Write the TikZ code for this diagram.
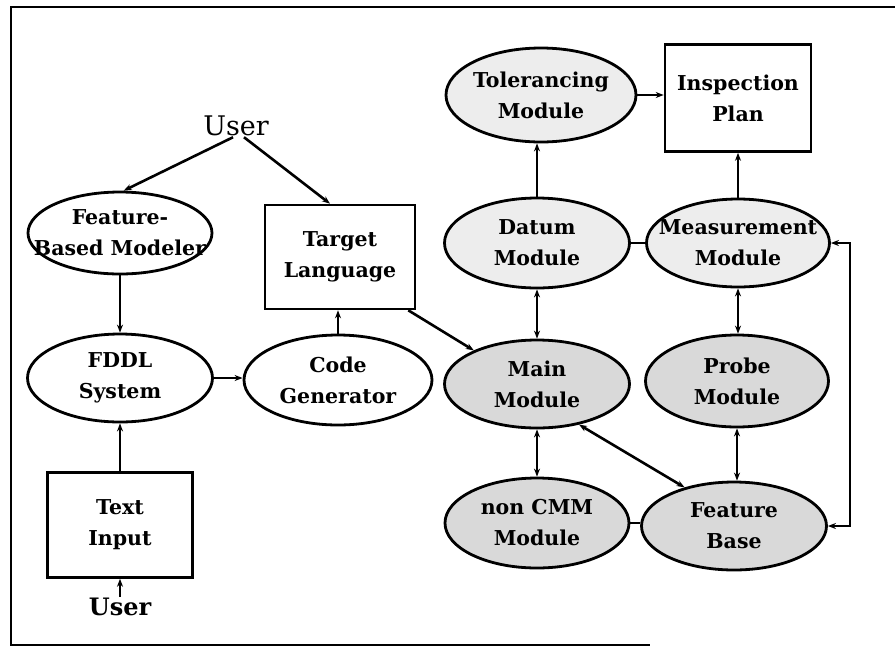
\documentclass[tikz,border=0pt]{standalone}
\usepackage{fontspec}
\setmainfont{DejaVu Serif}
\usetikzlibrary{shapes.geometric,arrows.meta,calc}
\begin{document}
\begin{tikzpicture}[x=1pt,y=-1pt,
  lbl/.style={font=\fontsize{20.5}{31}\selectfont\bfseries, align=center, inner sep=0pt},
  ell/.style={ellipse, draw, line width=2.8pt, lbl, inner xsep=-60pt, inner ysep=-25pt},
  lightell/.style={ell, fill=gray!14},
  darkell/.style={ell, fill=gray!30},
  boxnode/.style={rectangle, draw, line width=2.6pt, lbl},
  conn/.style={line width=2.6pt},
  arr/.style={conn, -{Stealth[length=8pt,width=6pt]}},
  darr/.style={conn, {Stealth[length=8pt,width=6pt]}-{Stealth[length=8pt,width=6pt]}}
]
\useasboundingbox (0,0) rectangle (895,649);
\draw[line width=2.2pt] (895,7) -- (11,7) -- (11,645) -- (650,645);

% left part
\node[inner sep=1pt, font=\fontsize{27}{30}\selectfont] (userT) at (236,126) {User};
\node[ell, minimum width=184, minimum height=82] (fbm) at (120,233) {Feature-\\Based Modeler};
\node[boxnode, minimum width=150, minimum height=104] (tl) at (340,257) {Target\\Language};
\node[ell, minimum width=185, minimum height=88] (fddl) at (120,378) {FDDL\\System};
\node[ell, minimum width=188, minimum height=90] (cg) at (338,380) {Code\\Generator};
\node[boxnode, minimum width=145, minimum height=105] (ti) at (120,525) {Text\\Input};
\node[inner sep=1pt, font=\fontsize{24}{28}\selectfont\bfseries] (userB) at (120,607) {User};

% right part
\node[lightell, minimum width=190, minimum height=94] (tol) at (541,95) {Tolerancing\\Module};
\node[boxnode, minimum width=146, minimum height=107] (ip) at (738,98) {Inspection\\Plan};
\node[lightell, minimum width=185, minimum height=90] (datum) at (537,243) {Datum\\Module};
\node[lightell, minimum width=183, minimum height=88] (meas) at (738,243) {Measurement\\Module};
\node[darkell, minimum width=185, minimum height=88] (main) at (537,384) {Main\\Module};
\node[darkell, minimum width=183, minimum height=92] (probe) at (737,381) {Probe\\Module};
\node[darkell, minimum width=184, minimum height=90] (noncmm) at (537,523) {non CMM\\Module};
\node[darkell, minimum width=185, minimum height=88] (fb) at (734,526) {Feature\\Base};

% connectors left
\draw[arr] ([xshift=-3pt]userT.south) -- (fbm.85);
\draw[arr] ([xshift=8pt]userT.south) -- ([xshift=-10pt]tl.north);
\draw[arr] (fbm.south) -- (fddl.north);
\draw[arr] (cg.north) -- (cg.north |- tl.south);
\draw[arr] ([xshift=-8pt]tl.south east) -- (main.152);
\draw[arr] (fddl.east) -- (fddl.east -| cg.west);
\draw[arr] (ti.north) -- (fddl.south);
\draw[arr] (userB.north) -- (ti.south);

% connectors right
\draw[arr] (datum.north) -- (datum.north |- tol.south);
\draw[arr] (tol.east) -- (ip.west |- tol.east);
\draw[arr] (meas.north) -- (ip.south);
\draw[conn] (datum.east) -- (meas.west);
\draw[darr] (datum.south) -- (main.north);
\draw[darr] (meas.south) -- (meas.south |- probe.north);
\draw[darr] (main.south) -- (noncmm.north);
\draw[darr] (main.-44) -- (fb.142);
\draw[darr] (probe.south) -- (probe.south |- fb.north);
\draw[conn] (noncmm.east) -- (noncmm.east -| fb.west);
\coordinate (loop) at (850,0);
\draw[darr] (fb.east) -- (fb.east -| loop) -- (meas.east -| loop) -- (meas.east);
\end{tikzpicture}
\end{document}
